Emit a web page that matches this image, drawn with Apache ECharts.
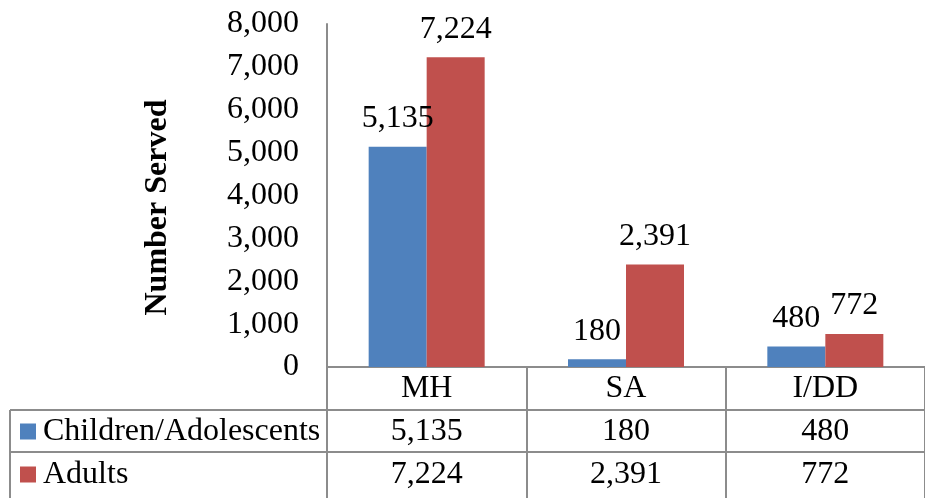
<!DOCTYPE html>
<html>
<head>
<meta charset="utf-8">
<script src="https://cdn.jsdelivr.net/npm/echarts@6/dist/echarts.min.js"></script>
<style>
html,body{margin:0;padding:0;background:#fff;}
#chart{width:925px;height:498px;}
</style>
</head>
<body>
<div id="chart"></div>
<script>
var categories = ['MH', 'SA', 'I/DD'];
var seriesNames = ['Children/Adolescents', 'Adults'];
var children = [5135, 180, 480];
var adults = [7224, 2391, 772];
var yTicks = [0, 1000, 2000, 3000, 4000, 5000, 6000, 7000, 8000];

var FONT = '"Liberation Serif", "Times New Roman", serif';
var fmt = function (v) { return Number(v).toLocaleString('en-US'); };

var chart = echarts.init(document.getElementById('chart'), null, {renderer: 'canvas'});
var gridLine = '#8c8c8c';
var FS = 32;

var option = {
  backgroundColor: '#ffffff',
  animation: false,
  textStyle: {fontFamily: FONT},
  grid: {left: 327, right: -12, top: 24, bottom: 131, containLabel: false},
  legend: {
    orient: 'vertical',
    left: 20,
    top: 410,
    padding: 0,
    itemWidth: 16,
    itemHeight: 16,
    itemGap: 0,
    icon: 'rect',
    selectedMode: false,
    textStyle: {fontFamily: FONT, fontSize: FS, color: '#000', lineHeight: 43, padding: [0, 0, 0, 2]},
    data: seriesNames
  },
  xAxis: {
    type: 'category',
    data: categories,
    axisLine: {lineStyle: {color: gridLine, width: 2}},
    axisTick: {show: true, length: 131, alignWithLabel: false, lineStyle: {color: gridLine, width: 2}},
    axisLabel: {
      margin: 0,
      fontFamily: FONT,
      fontSize: FS,
      color: '#000',
      lineHeight: 43,
      formatter: function (v, i) {
        return v + '\n' + fmt(children[i]) + '\n' + fmt(adults[i]);
      }
    }
  },
  yAxis: {
    type: 'value',
    min: yTicks[0],
    max: yTicks[yTicks.length - 1],
    interval: yTicks[1] - yTicks[0],
    name: 'Number Served',
    nameLocation: 'middle',
    nameGap: 153,
    nameRotate: 90,
    nameTextStyle: {fontFamily: FONT, fontSize: 32, fontWeight: 'bold', color: '#000', padding: [0, 24, 0, 0]},
    axisLine: {show: true, lineStyle: {color: gridLine, width: 2}},
    axisTick: {show: false},
    splitLine: {show: false},
    axisLabel: {margin: 28, fontFamily: FONT, fontSize: FS, color: '#000', formatter: fmt}
  },
  series: [
    {
      name: seriesNames[0],
      type: 'bar',
      data: children,
      barWidth: 58,
      barGap: '0%',
      itemStyle: {color: '#4F81BD'},
      label: {show: true, position: 'top', distance: 12, fontFamily: FONT, fontSize: FS, color: '#000', formatter: function (p) { return fmt(p.value); }}
    },
    {
      name: seriesNames[1],
      type: 'bar',
      data: adults,
      barWidth: 58,
      barGap: '0%',
      itemStyle: {color: '#C0504D'},
      label: {show: true, position: 'top', distance: 12, fontFamily: FONT, fontSize: FS, color: '#000', formatter: function (p) { return fmt(p.value); }}
    }
  ],
  graphic: [
    {type: 'line', shape: {x1: 10, y1: 410, x2: 925, y2: 410}, style: {stroke: gridLine, lineWidth: 2}},
    {type: 'line', shape: {x1: 10, y1: 452, x2: 925, y2: 452}, style: {stroke: gridLine, lineWidth: 2}},
    {type: 'line', shape: {x1: 10, y1: 410, x2: 10, y2: 498}, style: {stroke: gridLine, lineWidth: 2}}
  ]
};
chart.setOption(option);
</script>
</body>
</html>
